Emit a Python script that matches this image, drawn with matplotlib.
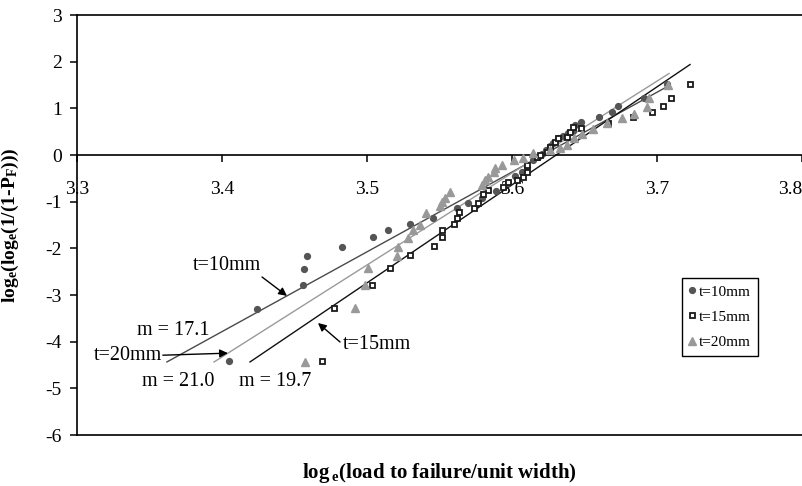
import matplotlib
matplotlib.use("Agg")
import matplotlib.pyplot as plt
from matplotlib.ticker import FixedLocator, FuncFormatter

plt.rcParams['font.family'] = ['Liberation Serif', 'DejaVu Serif']
plt.rcParams['axes.unicode_minus'] = False
plt.rcParams['mathtext.fontset'] = 'custom'
plt.rcParams['mathtext.rm'] = 'Liberation Serif:bold'
plt.rcParams['mathtext.it'] = 'Liberation Serif:bold'
plt.rcParams['mathtext.bf'] = 'Liberation Serif:bold'

# ---------------- data ----------------
series_labels = ["t=10mm", "t=15mm", "t=20mm"]

x10 = [3.4048, 3.4241, 3.4559, 3.4566, 3.4586, 3.4828, 3.5041, 3.5145, 3.5297, 3.5455,
       3.5621, 3.5697, 3.5793, 3.5890, 3.5972, 3.6021, 3.6069, 3.6103, 3.6145, 3.6179,
       3.6207, 3.6234, 3.6262, 3.6283, 3.6317, 3.6352, 3.6386, 3.6421, 3.6434, 3.6476,
       3.6600, 3.6690, 3.6731, 3.6910, 3.7069]
y10 = [-4.414, -3.300, -2.786, -2.443, -2.164, -1.971, -1.757, -1.607, -1.478, -1.350,
       -1.136, -1.029, -0.921, -0.771, -0.600, -0.450, -0.364, -0.257, -0.107, -0.043,
       0.021, 0.107, 0.193, 0.257, 0.364, 0.407, 0.471, 0.514, 0.643, 0.707,
       0.814, 0.921, 1.050, 1.221, 1.521]

x15 = [3.4690, 3.4772, 3.5034, 3.5159, 3.5297, 3.5462, 3.5517, 3.5517, 3.5600, 3.5621,
       3.5634, 3.5738, 3.5766, 3.5800, 3.5834, 3.5938, 3.5972, 3.6034, 3.6076, 3.6103,
       3.6103, 3.6172, 3.6193, 3.6241, 3.6262, 3.6297, 3.6317, 3.6379, 3.6400, 3.6421,
       3.6476, 3.6662, 3.6834, 3.6966, 3.7041, 3.7097, 3.7228]
y15 = [-4.414, -3.278, -2.786, -2.421, -2.143, -1.950, -1.757, -1.607, -1.478, -1.350,
       -1.221, -1.136, -1.029, -0.836, -0.750, -0.686, -0.579, -0.536, -0.471, -0.364,
       -0.214, -0.043, 0.000, 0.064, 0.171, 0.279, 0.364, 0.386, 0.493, 0.600,
       0.579, 0.686, 0.814, 0.921, 1.050, 1.221, 1.521]

x20 = [3.4572, 3.4917, 3.4986, 3.5007, 3.5207, 3.5214, 3.5283, 3.5317, 3.5366, 3.5407,
       3.5503, 3.5517, 3.5538, 3.5572, 3.5793, 3.5814, 3.5834, 3.5876, 3.5883, 3.5931,
       3.6014, 3.6076, 3.6145, 3.6262, 3.6331, 3.6379, 3.6428, 3.6483, 3.6559, 3.6655,
       3.6759, 3.6841, 3.6931, 3.6945, 3.7076]
y20 = [-4.436, -3.278, -2.786, -2.421, -2.164, -1.971, -1.778, -1.607, -1.500, -1.243,
       -1.093, -1.007, -0.921, -0.793, -0.643, -0.536, -0.471, -0.364, -0.279, -0.214,
       -0.107, -0.064, 0.043, 0.107, 0.150, 0.214, 0.364, 0.450, 0.557, 0.686,
       0.793, 0.879, 1.029, 1.221, 1.500]

# fitted Weibull lines: y = slope * x + intercept
fit_slope = [17.1, 21.0, 19.7]
fit_intercept = [-61.925, -76.24, -71.307]
fit_xstart = [3.362, 3.4193, 3.3945]
fit_xend = [3.7076, 3.7228, 3.7083]
m_labels = ["m = 17.1", "m = 19.7", "m = 21.0"]

x_ticks = [3.3, 3.4, 3.5, 3.6, 3.7, 3.8]
y_ticks = [-6, -5, -4, -3, -2, -1, 0, 1, 2, 3]

# ---------------- figure ----------------
fig = plt.figure(figsize=(8.02, 4.86), dpi=100)
W, H = 802, 486
ax = fig.add_axes([77 / W, 51 / H, (W - 77) / W, 420 / H])
ax.set_xlim(3.3, 3.8)
ax.set_ylim(-6, 3)

line_colors = ["#4a4a4a", "#111111", "#9a9a9a"]
for s, c, x0, x1, col in zip(fit_slope, fit_intercept, fit_xstart, fit_xend, line_colors):
    ax.plot([x0, x1], [s * x0 + c, s * x1 + c], color=col, lw=1.0, zorder=2)

h10, = ax.plot(x10, y10, ls='none', marker='o', ms=4.2, mfc='#555555', mec='#555555',
               label=series_labels[0], zorder=3)
h15, = ax.plot(x15, y15, ls='none', marker='s', ms=3.6, mfc='white', mec='#1a1a1a',
               mew=1.3, label=series_labels[1], zorder=3)
h20, = ax.plot(x20, y20, ls='none', marker='^', ms=6.0, mfc='#999999', mec='#999999',
               label=series_labels[2], zorder=3)

# axes styling
ax.spines['right'].set_visible(False)
ax.spines['bottom'].set_position(('data', 0))
for sp in ['left', 'top', 'bottom']:
    ax.spines[sp].set_linewidth(1.2)
    ax.spines[sp].set_color('black')
ax.plot([0, 1], [0, 0], transform=ax.transAxes, color='black', lw=1.2, clip_on=False)

ax.xaxis.set_major_locator(FixedLocator(x_ticks))
ax.yaxis.set_major_locator(FixedLocator(y_ticks))
ax.xaxis.set_major_formatter(FuncFormatter(lambda v, p: f"{v:.1f}"))
ax.yaxis.set_major_formatter(FuncFormatter(lambda v, p: f"{int(round(v))}"))
ax.tick_params(axis='x', direction='out', length=5, width=1.1, pad=14, labelsize=14)
ax.tick_params(axis='y', direction='out', length=5, width=1.1, pad=6, labelsize=14)
fig.canvas.draw()
xl = ax.get_xticklabels()
xl[-1].set_horizontalalignment('right')

ax.set_xlabel(r'log$\,_{e}$(load to failure/unit width)', fontsize=15, fontweight='bold')
ax.xaxis.set_label_coords(0.5, -0.09)
ax.xaxis.label.set_verticalalignment('center')
ax.set_ylabel(r'log$_{e}$(log$_{e}$(1/(1-P$_{F}$)))', fontsize=14, fontweight='bold')
ax.yaxis.set_label_coords(-0.077, 0.5)

# annotations
arrow_kw = dict(arrowstyle='-|>', color='black', lw=1.0, mutation_scale=12,
                shrinkA=0, shrinkB=0)
ann_fs = 14.5

def line_y(i, x):
    return fit_slope[i] * x + fit_intercept[i]

ax.text(3.4034, -2.378, series_labels[0], ha='center', va='center', fontsize=ann_fs)
ax.annotate('', xy=(3.4448, line_y(0, 3.4448)), xytext=(3.4276, -2.614), arrowprops=arrow_kw)
ax.text(3.3662, -3.75, m_labels[0], ha='center', va='center', fontsize=ann_fs)

ax.text(3.3586, -4.307, series_labels[2], ha='right', va='center', fontsize=ann_fs)
ax.annotate('', xy=(3.4041, line_y(2, 3.4041)), xytext=(3.3592, -4.29), arrowprops=arrow_kw)
ax.text(3.3697, -4.864, m_labels[2], ha='center', va='center', fontsize=ann_fs)
ax.text(3.4366, -4.864, m_labels[1], ha='center', va='center', fontsize=ann_fs)

ax.text(3.4834, -4.071, series_labels[1], ha='left', va='center', fontsize=ann_fs)
ax.annotate('', xy=(3.4662, -3.60), xytext=(3.4814, -4.007), arrowprops=arrow_kw)

leg = fig.legend([h10, h15, h20], series_labels, loc='upper right',
                 bbox_to_anchor=(758 / W, 1 - 278 / H), frameon=True, fancybox=False,
                 edgecolor='black', framealpha=1, fontsize=11, handlelength=0.4,
                 handletextpad=0.3, borderpad=0.45, labelspacing=0.75, borderaxespad=0)
leg.get_frame().set_linewidth(1.0)

fig.savefig('out.png', dpi=100)
